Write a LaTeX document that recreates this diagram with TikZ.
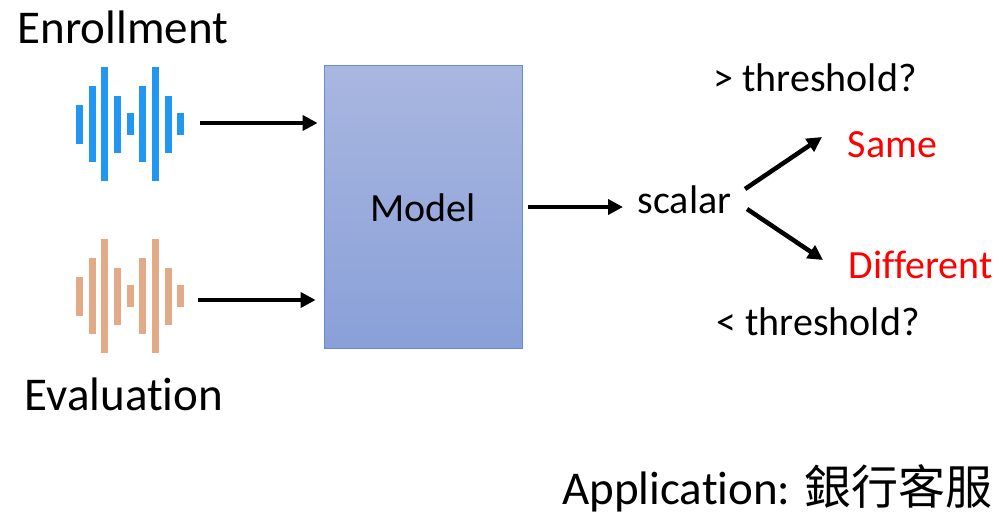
\documentclass[tikz,border=0pt]{standalone}
\usepackage{fontspec}
\setmainfont[Ligatures={NoCommon}]{Carlito}
\newfontfamily\cjk{Noto Sans CJK TC}
\usetikzlibrary{arrows.meta}
\definecolor{wblue}{RGB}{33,150,243}
\definecolor{worange}{RGB}{226,170,134}
\definecolor{boxtop}{RGB}{169,183,224}
\definecolor{boxbot}{RGB}{137,160,216}
\definecolor{boxedge}{RGB}{100,140,220}
\tikzset{
  big/.style={font=\fontsize{47}{50}\selectfont, inner sep=0pt, anchor=base},
  mid/.style={font=\fontsize{40}{44}\selectfont, inner sep=0pt, anchor=base},
  redtxt/.style={mid, text={rgb,255:red,255;green,0;blue,0}},
  arr/.style={line width=4.5pt, -{Triangle[length=15pt,width=15pt]}},
  modelbox/.style={draw=boxedge, line width=0.8pt, top color=boxtop, bottom color=boxbot,
    minimum width=198pt, minimum height=283pt, inner sep=0pt},
}
\begin{document}
\begin{tikzpicture}[x=1pt,y=-1pt]
\useasboundingbox (0,0) rectangle (1003,522);
% waveforms
\foreach \cy/\col in {124/wblue, 296/worange}{
  \foreach \cx/\h in {79.5/19.5, 92/38, 104.5/57, 117.5/28.5, 130/11, 142.5/38, 155.5/57, 168/28.5, 180.5/11}{
    \fill[\col] (\cx-3.5,\cy-\h) rectangle (\cx+3.5,\cy+\h);
  }
}
\node[big] (enr) at (123,43) {Enrollment};
\node[big] (eva) at (124,410) {Evaluation};
\node[modelbox] (model) at (423,206.5) {};
\node[mid] (mlab) at (423,221) {Model};
\coordinate (w1) at (200,123);
\coordinate (w2) at (198,300);
\draw[arr, shorten >=6pt] (w1) -- (model.west |- w1);
\draw[arr, shorten >=8pt] (w2) -- (model.west |- w2);
\node[mid] (scalar) at (684.5,213) {scalar};
\coordinate (s0) at (528,207);
\coordinate (s1) at (623,207);
\draw[arr] (s0) -- (s1);
\coordinate (u0) at (745,189);
\coordinate (u1) at (822,137);
\coordinate (d0) at (747,209);
\coordinate (d1) at (823,260);
\draw[arr] (u0) -- (u1);
\draw[arr] (d0) -- (d1);
\node[redtxt] (same) at (892.5,157) {Same};
\node[redtxt] (diff) at (920.5,278) {Different};
\node[mid] (gt) at (815,91) {> threshold?};
\node[mid] (lt) at (818,335) {< threshold?};
\node[big, anchor=base east] (app) at (993,504) {Application: {\cjk 銀行客服}};
\end{tikzpicture}
\end{document}
